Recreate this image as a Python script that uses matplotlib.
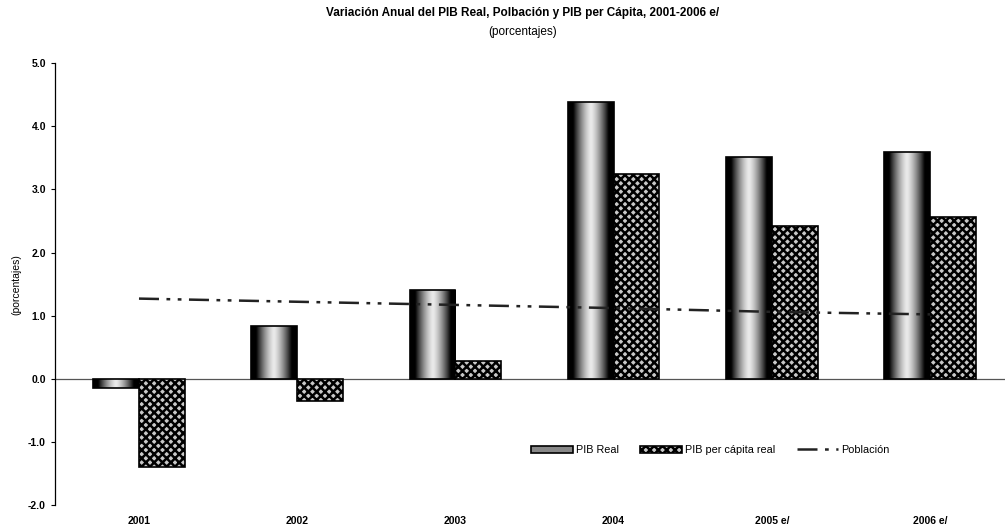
import numpy as np
import matplotlib
matplotlib.use("Agg")
import matplotlib.pyplot as plt
from matplotlib.patches import Patch
from matplotlib.lines import Line2D

plt.rcParams['font.family'] = ['Liberation Sans', 'DejaVu Sans']

years = ["2001", "2002", "2003", "2004", "2005 e/", "2006 e/"]
pib_real = [-0.15, 0.84, 1.41, 4.38, 3.51, 3.59]
pib_per_capita = [-1.40, -0.36, 0.28, 3.24, 2.42, 2.56]
poblacion = [1.27, 1.22, 1.17, 1.12, 1.06, 1.02]

fig = plt.figure(figsize=(10.05, 5.31), dpi=100)
ax = fig.add_axes([0.0547, 0.049, 0.9453, 0.832])

x = np.arange(len(years))
w = 0.29

# cylinder-like shading for PIB Real
grad = np.abs(np.linspace(-1, 1, 64))
grad = np.clip(grad ** 1.4 * 1.4, 0, 1)
grad = 0.92 - np.tile(grad, (2, 1)) * 0.92
bars1 = ax.bar(x - w / 2, pib_real, w, facecolor='none', edgecolor='black',
               linewidth=1.2, zorder=3)
for b in bars1:
    x0, y0 = b.get_x(), b.get_y()
    bw, bh = b.get_width(), b.get_height()
    im = ax.imshow(grad, cmap='gray', vmin=0, vmax=1, aspect='auto',
                   extent=[x0, x0 + bw, y0, y0 + bh], zorder=2,
                   interpolation='bilinear')
    im.set_clip_path(b)

plt.rcParams['hatch.linewidth'] = 1.8
bars2 = ax.bar(x + w / 2, pib_per_capita, w, facecolor='#c8c8c8',
               edgecolor='black', hatch='xxxx', linewidth=1.2, zorder=3)

ax.plot(x, poblacion, color='#222222', linestyle=(0, (8, 3, 1.5, 3, 1.5, 3)),
        linewidth=1.8, zorder=4)

ax.axhline(0, color='#555555', linewidth=0.9, zorder=1)

ax.set_xlim(-0.531, 5.474)
ax.set_ylim(-2.0, 5.0)
ax.set_yticks(np.arange(-2, 5.01, 1.0))
ax.set_yticklabels([f"{v:.1f}" for v in np.arange(-2, 5.01, 1.0)],
                   fontsize=7.5, fontweight='bold')
ax.set_xticks(x)
ax.set_xticklabels(years, fontsize=7.5, fontweight='bold')
ax.tick_params(axis='x', length=0, pad=8)
ax.tick_params(axis='y', length=3, width=0.8, direction='out')

for s in ['top', 'right', 'bottom']:
    ax.spines[s].set_visible(False)
ax.spines['left'].set_linewidth(0.9)

ax.set_ylabel("(porcentajes)", fontsize=7.5, labelpad=5)

fig.text(0.52, 0.975, "Variación Anual del PIB Real, Polbación y PIB per Cápita, 2001-2006 e/",
         ha='center', va='center', fontsize=8.5, fontweight='bold')
fig.text(0.52, 0.94, "(porcentajes)", ha='center', va='center', fontsize=8.5)

handles = [
    Patch(facecolor='#888888', edgecolor='black', linewidth=1.2),
    Patch(facecolor='#c8c8c8', edgecolor='black', hatch='xxxx', linewidth=1.2),
    Line2D([0], [0], color='#222222', linestyle=(0, (8, 3, 1.5, 3)), linewidth=1.8),
]
ax.legend(handles, ["PIB Real", "PIB per cápita real", "Población"],
          loc='center', bbox_to_anchor=(0.69, 0.124), ncol=3, frameon=False,
          fontsize=7.8, handlelength=3.8, handletextpad=0.3, columnspacing=2.0)

fig.savefig("out.png", dpi=100)
